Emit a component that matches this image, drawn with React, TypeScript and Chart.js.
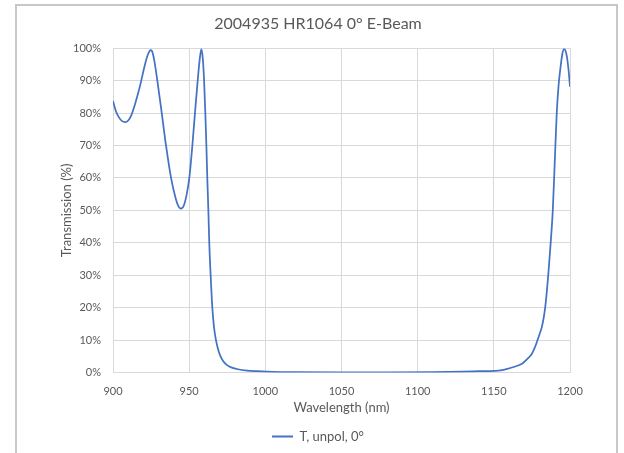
import React, { useEffect, useRef } from "react";
import { Chart, registerables } from "chart.js";

Chart.register(...registerables);

const chartTitle = "2004935 HR1064 0° E-Beam";
const seriesLabel = "T, unpol, 0°";
const xAxisTitle = "Wavelength (nm)";
const yAxisTitle = "Transmission (%)";

const wavelengths = [
  900, 902, 904, 906, 908, 910, 912, 914, 916, 917.7, 919.5, 921, 922.5, 924, 924.7, 925.5, 927,
  929.1, 932, 934.8, 938.1, 941.2, 943, 944.6, 946.5, 948.4, 950.1, 952.1, 953.8, 955.6, 956.8, 958,
  959, 959.8, 960.6, 961.3, 961.9, 962.6, 963.2, 964.1, 965.2, 966.3, 967.6, 968.8, 970.3, 972.5,
  975.1, 978, 982, 988, 995, 1005, 1020, 1050, 1080, 1110, 1130, 1141, 1150, 1154.4, 1158.8, 1163,
  1168.5, 1172, 1175, 1177, 1178.7, 1180, 1181.5, 1182.7, 1183.7, 1184.8, 1185.8, 1187.4, 1188.7,
  1190, 1191.3, 1192.5, 1193.5, 1195, 1196.1, 1197, 1198, 1199, 1200,
];

const transmission = [
  83.7, 80.5, 78.6, 77.5, 77.2, 77.7, 79.3, 82.0, 85.3, 88.3, 92.0, 95.0, 97.5, 99.1, 99.4, 99.2, 96.5,
  90.0, 80.0, 70.0, 60.0, 53.6, 51.2, 50.5, 51.5, 55.0, 60.0, 70.0, 80.0, 90.0, 96.0, 99.7,
  96.5, 90.0, 80.0, 70.0, 60.0, 50.0, 40.0, 30.0, 20.0, 14.0, 10.0, 7.5, 5.3, 3.4,
  2.2, 1.5, 1.0, 0.6, 0.4, 0.2, 0.1, 0.05, 0.05, 0.1, 0.25, 0.4, 0.5, 0.65, 1.1, 1.7,
  2.7, 4.2, 5.8, 7.8, 10.0, 11.8, 14.0, 16.8, 20.0, 25.0, 30.5, 40.5, 50.0,
  65.0, 80.0, 88.5, 93.0, 98.3, 99.7, 99.3, 97.3, 93.5, 88.1,
];

const xMin = 900;
const xMax = 1200;
const xStep = 50;
const yMin = 0;
const yMax = 100;
const yStep = 10;

const TEXT = "#595959";
const GRID = "#d9d9d9";
const LINE = "#4472C4";
const FONT = "Lato, 'Open Sans', sans-serif";

const borderPlugin = {
  id: "outerBorder",
  beforeDraw(chart: any) {
    const ctx = chart.ctx;
    ctx.save();
    ctx.fillStyle = "#ffffff";
    ctx.fillRect(0, 0, chart.width, chart.height);
    ctx.strokeStyle = "#c8c8c8";
    ctx.lineWidth = 2;
    ctx.strokeRect(16, 5, 601, 470);
    ctx.restore();
  },
};

export default function App() {
  const ref = useRef<HTMLCanvasElement | null>(null);

  useEffect(() => {
    document.body.style.margin = "0";
    if (!ref.current) return;
    const points = wavelengths.map((x, i) => ({ x, y: transmission[i] }));
    const chart = new Chart(ref.current, {
      type: "line",
      data: {
        datasets: [
          {
            label: seriesLabel,
            data: points,
            borderColor: LINE,
            backgroundColor: LINE,
            borderWidth: 1.75,
            pointRadius: 0,
            cubicInterpolationMode: "monotone",
            fill: false,
          },
        ],
      },
      options: {
        animation: false,
        responsive: false,
        layout: { padding: { left: 55, right: 43, top: 0, bottom: 0 } },
        plugins: {
          title: {
            display: true,
            text: chartTitle,
            color: TEXT,
            font: { family: FONT, size: 16, weight: "normal" },
            padding: { top: 14, bottom: 15 },
          },
          legend: {
            display: true,
            position: "bottom",
            labels: {
              color: TEXT,
              font: { family: FONT, size: 13 },
              boxWidth: 21,
              boxHeight: 2,
              padding: 5.5,
              generateLabels: (c: any) =>
                Chart.defaults.plugins.legend.labels
                  .generateLabels(c)
                  .map((l: any) => ({ ...l, lineWidth: 0 })),
            },
          },
          tooltip: { enabled: false },
        },
        scales: {
          x: {
            type: "linear",
            min: xMin,
            max: xMax,
            ticks: {
              stepSize: xStep,
              color: TEXT,
              font: { family: FONT, size: 11 },
              padding: 12,
              maxRotation: 0,
              callback: (v: any) => String(v),
            },
            grid: { color: GRID, drawTicks: false },
            border: { color: GRID },
            title: {
              display: true,
              text: xAxisTitle,
              color: TEXT,
              font: { family: FONT, size: 13 },
              padding: { top: 4, bottom: 9 },
            },
            afterFit(s: any) {
              s.height = 52;
            },
          },
          y: {
            min: yMin,
            max: yMax,
            ticks: {
              stepSize: yStep,
              color: TEXT,
              font: { family: FONT, size: 11 },
              padding: 12,
              callback: (v: any) => v + "%",
            },
            grid: { color: GRID, drawTicks: false },
            border: { color: GRID },
            title: {
              display: true,
              text: yAxisTitle,
              color: TEXT,
              font: { family: FONT, size: 13 },
              padding: { top: 4, bottom: 4 },
            },
            afterFit(s: any) {
              s.width = 58;
            },
          },
          yRight: {
            position: "right",
            display: true,
            grid: { display: false },
            ticks: { display: false },
            border: { display: false },
            afterFit(s: any) {
              s.width = 11;
            },
          },
        },
      } as any,
      plugins: [borderPlugin],
    });
    return () => chart.destroy();
  }, []);

  return (
    <div style={{ width: 624, height: 453 }}>
      <canvas ref={ref} width={624} height={453} style={{ display: "block" }} />
    </div>
  );
}
